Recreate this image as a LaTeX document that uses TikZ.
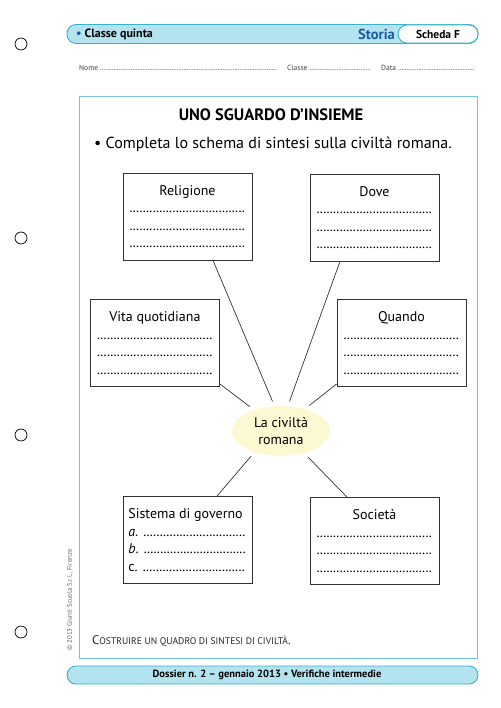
\documentclass[tikz,border=0pt]{standalone}
\usepackage{fontspec}
\setmainfont{PT Sans}
\usetikzlibrary{shapes.geometric,calc}
\definecolor{barfill}{HTML}{B3E3EF}
\definecolor{barline}{HTML}{3DB1CB}
\definecolor{frameline}{HTML}{72C6DA}
\definecolor{storiablue}{HTML}{1B5AA6}
\definecolor{ellfill}{HTML}{FBF8D2}
\definecolor{boxline}{HTML}{333333}
\newcommand{\dotrow}[1]{\makebox[#1]{\leaders\hbox to 3.3pt{\hss.\hss}\hfill}}
\newcommand{\thindots}[1]{\makebox[#1]{\leaders\hbox to 1.7pt{\hss.\hss}\hfill}}
\begin{document}
\begin{tikzpicture}[x=1pt,y=-1pt,
  hole/.style={draw,line width=0.7pt,circle,minimum size=12pt,inner sep=0},
  bar/.style={draw=barline,fill=barfill,line width=0.9pt,rounded corners=9pt,minimum width=411pt,minimum height=19pt,inner sep=0},
  infobox/.style={draw=boxline,line width=0.8pt,minimum width=129pt,minimum height=87pt,inner sep=0,align=center,font=\fontsize{14}{17.5}\selectfont},
  link/.style={draw=boxline,line width=0.7pt},
  small/.style={font=\fontsize{7.5}{8}\selectfont,text=black!75,inner sep=0,anchor=base west}
]
\useasboundingbox (0,0) rectangle (500,708);
% holes
\node[hole] (h1) at (21,44) {};
\node[hole] (h2) at (21,238) {};
\node[hole] (h3) at (21,435) {};
\node[hole] (h4) at (21,632) {};
% header
\node[bar] (top) at (272.5,34) {};
\node[draw=barline,fill=white,line width=0.9pt,rounded corners=9pt,minimum width=80pt,minimum height=18pt,inner sep=0,font=\fontsize{11.5}{13}\selectfont\bfseries] (scheda) at (438,34) {Scheda F};
\node[anchor=west,inner sep=0,font=\fontsize{12}{14}\selectfont\bfseries] (classe) at (76,34) {\textcolor{storiablue}{•} Classe quinta};
\node[inner sep=0,font=\fontsize{14.5}{16}\selectfont\bfseries,text=storiablue] (storia) at (376.5,34) {Storia};
% name line
\node[small] (nome) at (79,71) {Nome \thindots{178pt}};
\node[small] (cl) at (287,71) {Classe \thindots{62pt}};
\node[small] (data) at (381,71) {Data \thindots{78pt}};
% frame
\draw[frameline,line width=0.9pt] (79,96) rectangle (477,658);
\node[font=\fontsize{16.5}{19}\selectfont\bfseries] (title) at (271,115) {UNO SGUARDO D’INSIEME};
\node[font=\fontsize{16}{19}\selectfont] (instr) at (273,144) {• Completa lo schema di sintesi sulla civiltà romana.};
% boxes
\node[infobox] (rel) at (187.5,216.5) {Religione\\\dotrow{116pt}\\\dotrow{116pt}\\\dotrow{116pt}};
\node[infobox] (dove) at (374.5,217.5) {Dove\\\dotrow{116pt}\\\dotrow{116pt}\\\dotrow{116pt}};
\node[infobox] (vita) at (155,343) {Vita quotidiana\\\dotrow{116pt}\\\dotrow{116pt}\\\dotrow{116pt}};
\node[infobox] (quando) at (401.5,343) {Quando\\\dotrow{116pt}\\\dotrow{116pt}\\\dotrow{116pt}};
\node[infobox,align=left] (sist) at (187.5,540) {Sistema di governo\\\textit{a}. \dotrow{103pt}\\\textit{b}. \dotrow{103pt}\\c. \dotrow{103pt}};
\node[infobox] (soc) at (374.5,541) {Società\\\dotrow{116pt}\\\dotrow{116pt}\\\dotrow{116pt}};
\node[ellipse,fill=ellfill,minimum width=98pt,minimum height=50pt,inner sep=0,outer sep=5pt,align=center,font=\fontsize{14}{17}\selectfont] (civ) at (281,431) {La civiltà\\romana};
% connectors
\draw[link] ($(rel.south)+(25.5,0)$) -- (civ.106);
\draw[link] ($(dove.south)+(-34.5,0)$) -- (civ.74);
\draw[link] ($(vita.east)+(0,41)$) -- (civ.142);
\draw[link] ($(quando.west)+(0,41)$) -- (civ.42);
\draw[link] ($(sist.north)+(29.5,0)$) -- (civ.220);
\draw[link] ($(soc.north)+(-27.5,0)$) -- (civ.316);
% bottom note
\node[anchor=base west,inner sep=0,font=\fontsize{12.5}{14}\selectfont,text=black!85] (note) at (92,644) {C{\fontsize{9.6}{11}\selectfont OSTRUIRE UN QUADRO DI SINTESI DI CIVILTÀ}.};
% copyright
\node[rotate=90,inner sep=0,font=\fontsize{6.8}{7}\selectfont,text=black!60] (copy) at (70,600) {© 2013 Giunti Scuola S.r.l., Firenze};
% footer
\node[bar,minimum height=18pt] (foot) at (272.5,675) {};
\node[font=\fontsize{10.5}{12}\selectfont\bfseries,inner sep=0] (foottext) at (267,675) {Dossier n. 2 – gennaio 2013 • Verifiche intermedie};
\end{tikzpicture}
\end{document}
